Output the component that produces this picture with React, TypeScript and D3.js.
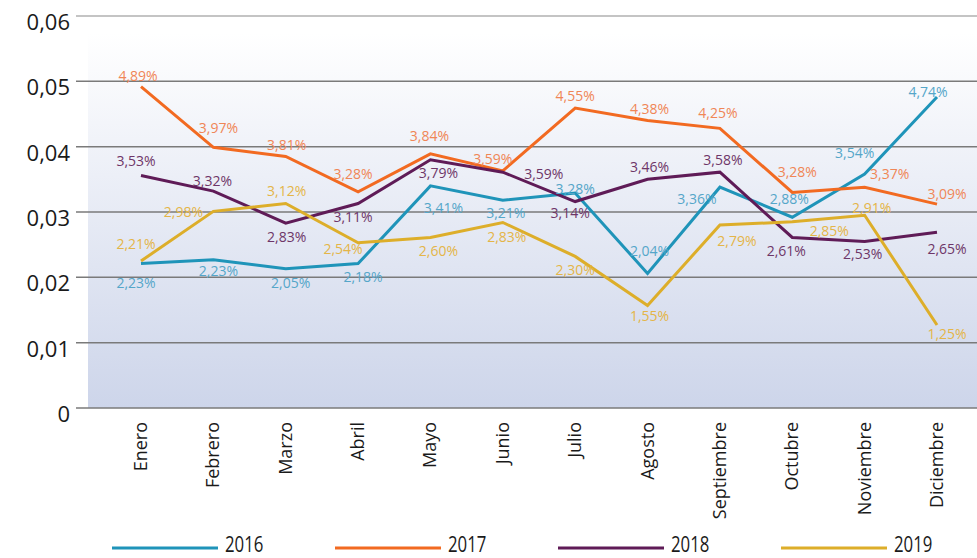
import React, { useEffect, useRef } from "react";
import * as d3 from "d3";

const months = [
  "Enero", "Febrero", "Marzo", "Abril", "Mayo", "Junio",
  "Julio", "Agosto", "Septiembre", "Octubre", "Noviembre", "Diciembre",
];
const years = ["2016", "2017", "2018", "2019"];
const yTicks = [0, 0.01, 0.02, 0.03, 0.04, 0.05, 0.06];

// plotted values (as drawn)
const values2016 = [0.0221, 0.0227, 0.0213, 0.0221, 0.034, 0.0318, 0.0329, 0.0206, 0.0338, 0.0292, 0.0358, 0.0476];
const values2017 = [0.0492, 0.0399, 0.0385, 0.0331, 0.0389, 0.0363, 0.0459, 0.044, 0.0428, 0.033, 0.0338, 0.0312];
const values2018 = [0.0356, 0.0332, 0.0283, 0.0313, 0.038, 0.0361, 0.0316, 0.035, 0.0361, 0.0261, 0.0255, 0.0269];
const values2019 = [0.0225, 0.0301, 0.0313, 0.0253, 0.0261, 0.0284, 0.0232, 0.0157, 0.028, 0.0285, 0.0295, 0.0127];

// data labels as printed
const labels2016 = ["2,23%", "2,23%", "2,05%", "2,18%", "3,41%", "3,21%", "3,28%", "2,04%", "3,36%", "2,88%", "3,54%", "4,74%"];
const labels2017 = ["4,89%", "3,97%", "3,81%", "3,28%", "3,84%", "3,59%", "4,55%", "4,38%", "4,25%", "3,28%", "3,37%", "3,09%"];
const labels2018 = ["3,53%", "3,32%", "2,83%", "3,11%", "3,79%", "3,59%", "3,14%", "3,46%", "3,58%", "2,61%", "2,53%", "2,65%"];
const labels2019 = ["2,21%", "2,98%", "3,12%", "2,54%", "2,60%", "2,83%", "2,30%", "1,55%", "2,79%", "2,85%", "2,91%", "1,25%"];

// label placement relative to the point [dx, dy]
const offsets2016 = [[-5, 19], [5, 11], [5, 14], [5, 13], [13, 22], [3, 12], [0, -5], [2, -23], [-23, 11], [-3, -19], [-10, -22], [-9, -6]];
const offsets2017 = [[-3, -11], [5, -20], [1, -12], [-5, -18], [-1, -18], [-10, -12], [0, -13], [2, -12], [-2, -16], [5, -21], [25, -14], [10, -11]];
const offsets2018 = [[-5, -15], [-1, -11], [1, 13], [-5, 13], [8, 13], [41, 1], [-5, 11], [2, -13], [3, -13], [-6, 13], [-2, 12], [10, 16]];
const offsets2019 = [[-5, -18], [-30, 0], [1, -13], [-15, 6], [8, 13], [4, 14], [0, 13], [2, 10], [17, 15], [37, 9], [7, -8], [10, 8]];

const lineColors = ["#1f94b9", "#f26a21", "#5f1b57", "#ddae2a"];
const labelColors = ["#55a6c9", "#f08656", "#6e3668", "#e4b548"];

const App = () => {
  const svgRef = useRef<SVGSVGElement>(null);
  const svgWidth = 977;
  const svgHeight = 558;

  useEffect(() => {
    const svg = d3.select(svgRef.current);
    svg.selectAll("*").remove();

    const series = [values2016, values2017, values2018, values2019];
    const labels = [labels2016, labels2017, labels2018, labels2019];
    const offsets = [offsets2016, offsets2017, offsets2018, offsets2019];

    const x = d3.scalePoint<string>().domain(months).range([141, 937]);
    const y = d3.scaleLinear().domain([0, 0.06]).range([408, 16]);

    const defs = svg.append("defs");
    const grad = defs
      .append("linearGradient")
      .attr("id", "bg")
      .attr("x1", 0)
      .attr("y1", 0)
      .attr("x2", 0)
      .attr("y2", 1);
    grad.append("stop").attr("offset", "0%").attr("stop-color", "#ffffff");
    grad.append("stop").attr("offset", "100%").attr("stop-color", "#cdd5ea");

    svg
      .append("rect")
      .attr("x", 88)
      .attr("y", 33)
      .attr("width", svgWidth - 88)
      .attr("height", y(0) - 33)
      .attr("fill", "url(#bg)");

    // gridlines
    svg
      .append("g")
      .selectAll("line")
      .data(yTicks)
      .enter()
      .append("line")
      .attr("x1", 76)
      .attr("x2", svgWidth)
      .attr("y1", (d) => y(d))
      .attr("y2", (d) => y(d))
      .attr("stroke", (d) => (d === 0.06 ? "#b0b0b0" : "#7a7a7a"))
      .attr("stroke-width", 1.5);

    // y tick labels
    svg
      .append("g")
      .selectAll("text")
      .data(yTicks)
      .enter()
      .append("text")
      .attr("x", 70)
      .attr("y", (d) => y(d) + 5)
      .attr("text-anchor", "end")
      .attr("dominant-baseline", "central")
      .attr("font-family", "Open Sans")
      .attr("font-size", 22)
      .attr("fill", "#1a1a1a")
      .text((d) => (d === 0 ? "0" : d.toFixed(2).replace(".", ",")));

    // month labels
    svg
      .append("g")
      .selectAll("text")
      .data(months)
      .enter()
      .append("text")
      .attr("transform", (d) => `translate(${x(d)! - 1}, 422) rotate(-90)`)
      .attr("text-anchor", "end")
      .attr("dominant-baseline", "central")
      .attr("font-family", "Open Sans")
      .attr("font-size", 18)
      .attr("fill", "#1a1a1a")
      .text((d) => d);

    const line = d3
      .line<number>()
      .x((_, i) => x(months[i])!)
      .y((d) => y(d));

    series.forEach((vals, s) => {
      svg
        .append("path")
        .datum(vals)
        .attr("d", line)
        .attr("fill", "none")
        .attr("stroke", lineColors[s])
        .attr("stroke-width", 3);
    });

    series.forEach((vals, s) => {
      svg
        .append("g")
        .selectAll("text")
        .data(vals)
        .enter()
        .append("text")
        .attr("x", (_, i) => x(months[i])! + offsets[s][i][0])
        .attr("y", (d, i) => y(d) + offsets[s][i][1])
        .attr("text-anchor", "middle")
        .attr("dominant-baseline", "central")
        .attr("font-family", "Open Sans")
        .attr("font-size", 14)
        .attr("fill", labelColors[s])
        .text((_, i) => labels[s][i]);
    });

    // legend
    const legend = svg
      .append("g")
      .selectAll("g")
      .data(years)
      .enter()
      .append("g")
      .attr("transform", (_, i) => `translate(${112 + i * 223}, 548)`);
    legend
      .append("line")
      .attr("x1", 0)
      .attr("x2", 106)
      .attr("stroke", (_, i) => lineColors[i])
      .attr("stroke-width", 3);
    legend
      .append("text")
      .attr("transform", "translate(113, 4) scale(0.8, 1)")
      .attr("font-family", "Open Sans")
      .attr("font-size", 21)
      .attr("fill", "#1a1a1a")
      .text((d) => d);
  }, []);

  return (
    <svg
      ref={svgRef}
      width={svgWidth}
      height={svgHeight}
      style={{ position: "absolute", left: 0, top: 0, background: "#fff" }}
    />
  );
};

export default App;
